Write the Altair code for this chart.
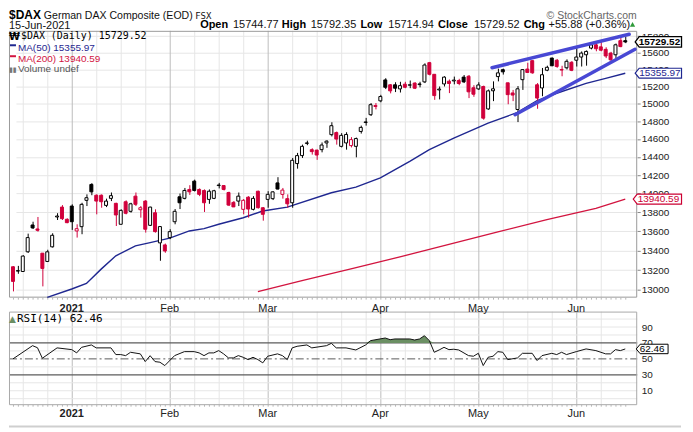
import altair as alt
import numpy as np
import pandas as pd

# ---------------- values ----------------
# t = trading-day index: 0 = first candle (Dec 2020) ... 125 = 15-Jun-2021
opens = [13234, 13190, 13186, 13387, 13666, 13624, 13373, 13288, 13438, 13750,
         13855, 13726, 13866, 13603, 13648, 13927, 14098, 13982, 13982, 13873,
         13948, 13895, 13673, 13912, 13810, 13972, 13827, 13919, 13662, 13795,
         13479, 13458, 13534, 13700, 13965, 13948, 14044, 14134, 14044, 14033,
         13937, 13948, 14086, 14086, 14011, 13905, 13919, 13831, 13961, 13831,
         14025, 13848, 13937, 13945, 14115, 13991, 13945, 13901, 14326, 14414,
         14550, 14480, 14475, 14480, 14555, 14648, 14671, 14517, 14555, 14525,
         14517, 14684, 14785, 14874, 14968, 15033, 15277, 15220, 15220, 15172,
         15227, 15215, 15240, 15222, 15254, 15481, 15343, 15160, 15230, 15262,
         15265, 15270, 15310, 15320, 15185, 15172, 15200, 14940, 15150, 15316,
         15398, 15243, 15125, 14934, 15280, 15405, 15505, 15220, 15183, 15391,
         15536, 15510, 15400, 15420, 15485, 15510, 15548, 15575, 15655, 15695,
         15670, 15640, 15595, 15575, 15745, 15744.77]
highs = [13240, 13243, 13352, 13575, 13700, 13750, 13373, 13408, 13579, 13790,
         13876, 13735, 13884, 13673, 13901, 13991, 14112, 13991, 13990, 13945,
         14011, 13901, 13831, 13927, 13901, 14011, 13866, 13930, 13858, 13831,
         13655, 13472, 13621, 13834, 14000, 14060, 14090, 14150, 14055, 14044,
         14044, 14040, 14115, 14090, 14020, 13920, 14011, 13941, 13972, 13972,
         14030, 13855, 14025, 14025, 14177, 14060, 13991, 14388, 14444, 14536,
         14580, 14495, 14480, 14560, 14585, 14788, 14683, 14665, 14675, 14620,
         14615, 14750, 14838, 15008, 15008, 15103, 15297, 15227, 15250, 15255,
         15255, 15270, 15250, 15255, 15473, 15490, 15343, 15200, 15320, 15282,
         15316, 15290, 15335, 15335, 15215, 15250, 15210, 15165, 15260, 15410,
         15410, 15243, 15160, 15205, 15405, 15480, 15510, 15240, 15418, 15445,
         15540, 15525, 15444, 15520, 15500, 15655, 15615, 15627, 15710, 15730,
         15735, 15665, 15610, 15710, 15810, 15792.35]
lows = [12986, 13163, 13186, 13376, 13624, 13596, 13036, 13282, 13431, 13718,
        13718, 13685, 13614, 13534, 13569, 13866, 13982, 13778, 13848, 13855,
        13919, 13655, 13673, 13778, 13796, 13866, 13743, 13586, 13655, 13586,
        13295, 13377, 13518, 13673, 13834, 13937, 13985, 14022, 13972, 13803,
        13890, 13940, 14055, 14033, 13866, 13855, 13866, 13778, 13743, 13820,
        13840, 13711, 13848, 13930, 14044, 13945, 13848, 13848, 14270, 14388,
        14530, 14425, 14367, 14450, 14500, 14628, 14536, 14505, 14480, 14505,
        14395, 14660, 14750, 14860, 14935, 15017, 15170, 15120, 15135, 15130,
        15180, 15180, 15170, 15190, 15240, 15330, 15045, 15050, 15200, 15123,
        15225, 15215, 15240, 15065, 15080, 15160, 14817, 14930, 15030, 15260,
        15340, 14994, 15030, 14790, 15160, 15360, 15350, 14942, 15087, 15380,
        15440, 15420, 15320, 15400, 15380, 15435, 15435, 15445, 15640, 15617,
        15617, 15535, 15485, 15535, 15665, 15714.94]
closes = [13086, 13195, 13343, 13534, 13635, 13610, 13217, 13387, 13558, 13760,
          13732, 13690, 13700, 13627, 13884, 13955, 14018, 13919, 13912, 13919,
          13977, 13771, 13820, 13789, 13890, 13884, 13848, 13621, 13855, 13596,
          13649, 13395, 13596, 13810, 13901, 14033, 14018, 14033, 13991, 13901,
          14025, 14030, 14092, 14044, 13876, 13857, 13972, 13927, 13834, 13948,
          13848, 13778, 13991, 14018, 14048, 14037, 13890, 14362, 14414, 14517,
          14555, 14458, 14420, 14532, 14575, 14749, 14598, 14640, 14650, 14592,
          14604, 14730, 14792, 14989, 14980, 15083, 15191, 15149, 15180, 15210,
          15191, 15220, 15180, 15230, 15453, 15343, 15094, 15170, 15310, 15235,
          15275, 15235, 15254, 15138, 15110, 15218, 14835, 15149, 15173, 15360,
          15372, 15105, 15100, 15173, 15398, 15365, 15360, 15065, 15338, 15426,
          15444, 15435, 15393, 15497, 15390, 15548, 15595, 15615, 15695, 15647,
          15630, 15560, 15515, 15695, 15673.64, 15729.52]

ma50_t = [7, 12, 15, 18, 21, 25, 28, 32, 36, 39, 42, 47, 51, 56, 65, 70, 75, 81,
          85, 90, 97, 103, 107, 111, 117, 121, 125]
ma50_v = [12927, 13010, 13066, 13210, 13346, 13448, 13482, 13528, 13603, 13627,
          13673, 13742, 13813, 13855, 14008, 14069, 14170, 14351, 14481, 14610,
          14779, 14900, 15037, 15121, 15237, 15296, 15355.97]
ma200_t = [50, 59, 69, 79, 89, 99, 109, 119, 125]
ma200_v = [12983, 13093, 13213, 13335, 13463, 13593, 13723, 13841, 13940.59]

trend_id = ["upper", "upper", "lower", "lower"]
trend_t = [97.8, 125.8, 102.5, 127.0]
trend_v = [15421, 15822, 14874, 15641]

rsi_t = [0, 4, 5, 6, 9, 12, 13, 14, 16, 17, 20, 21, 22, 23, 24, 26, 27, 28, 29, 30,
         31, 33, 35, 37, 38, 39, 40, 41, 42, 43, 44, 45, 46, 47, 48, 49, 50, 51, 52, 54,
         55, 56, 57, 58, 60, 61, 64, 65, 66, 68, 70, 72, 73, 76, 77, 78, 81, 82, 83, 84,
         85, 86, 87, 88, 89, 90, 91, 93, 94, 95, 96, 97, 98, 99, 100, 101, 103, 104, 106,
         107, 108, 110, 111, 112, 113, 115, 117, 119, 121, 122, 123, 124, 125]
rsi_v = [50, 66.6, 64, 50.8, 63.8, 61.6, 57.5, 64.5, 67.5, 63.8, 63.8, 55.4, 55.4, 54.1,
         58.3, 56.3, 46.6, 54, 46.6, 45.8, 41.6, 54.1, 59.1, 59.1, 57.5, 54.1, 57.5, 57.5,
         60.4, 56.3, 51.2, 51.2, 54.1, 52, 49.1, 52, 49.1, 45, 53.3, 56.3, 54.1, 49.1,
         63.8, 65.8, 67.5, 63.8, 66.6, 69.5, 63.8, 63.8, 61.2, 67.5, 72.9, 76.2, 74.1, 75,
         75, 73.7, 75, 79.1, 72.9, 58.3, 61.2, 64.5, 61.6, 62.1, 61.2, 54.1, 53.3, 57,
         41.6, 52, 53.3, 59.1, 58.3, 49.1, 51.2, 57, 57, 47.9, 54.1, 57, 55.4, 58.3, 55.4,
         59.1, 62.5, 60.4, 56.3, 56.3, 61.6, 60.4, 62.46]

month_t = [12, 32, 52, 75, 95, 115]
month_names = ["2021", "Feb", "Mar", "Apr", "May", "Jun"]
week_t = [2, 7, 17, 22, 27, 37, 42, 47, 57, 62, 67, 72, 80, 85, 90, 100, 105, 110, 120]
price_ticks = [13000, 13200, 13400, 13600, 13800, 14000, 14200, 14400, 14600,
               14800, 15000, 15200, 15400, 15600, 15800]
rsi_ticks = [10, 30, 50, 70, 90]
rsi_grid = [0, 10, 20, 40, 60, 80, 90, 100]
hdr_labels = ["Open", "High", "Low", "Close", "Chg"]
hdr_values = ["15744.77", "15792.35", "15714.94", "15729.52", "+55.88 (+0.36%)"]

# ---------------- layout / style ----------------
W, H = 631, 378
RED, BLACK, NAVY, MARED = "#d1003b", "#000000", "#1f2790", "#d2143f"
SANS = "Liberation Sans, Arial, sans-serif"
MONO = "DejaVu Sans Mono, monospace"
DEJ = "DejaVu Sans, sans-serif"

XS = alt.Scale(domain=[0, 125], range=[-1, 624], nice=False, zero=False)
PY = alt.Scale(type="log", domain=[13000, 15800], range=[260.3, 5.3], nice=False)
RY = alt.Scale(domain=[0, 100], range=[369.5, 289.5], nice=False, zero=False)


def X(field="t"):
    return alt.X(f"{field}:Q", scale=XS, axis=None)


one = pd.DataFrame({"k": [0]})


def label(s, x, y, size=11, weight="normal", color="#111", font=SANS, align="left"):
    return alt.Chart(one).mark_text(text=s, font=font, fontSize=size, fontWeight=weight,
                                    color=color, align=align, baseline="alphabetic").encode(
        x=alt.value(x), y=alt.value(y))


def hline(x0, x1, y, color, width=1.0, dash=None, opacity=1.0):
    kw = dict(color=color, strokeWidth=width, opacity=opacity)
    if dash:
        kw["strokeDash"] = dash
    return alt.Chart(one).mark_rule(**kw).encode(x=alt.value(x0), x2=alt.value(x1), y=alt.value(y))


def box(x0, x1, y0, y1, color):
    return alt.Chart(one).mark_rect(fill="transparent", stroke=color, strokeWidth=1).encode(
        x=alt.value(x0), x2=alt.value(x1), y=alt.value(y0), y2=alt.value(y1))


def value_box(value, scale, x_left, width, height, color, text_x, bold, size, sw=1.2):
    s = width / 2.0
    hy = height / 2.0 / s
    bl = -1 + 4.0 / s
    path = f"M -1 0 L {bl:.3f} {-hy:.3f} L 1 {-hy:.3f} L 1 {hy:.3f} L {bl:.3f} {hy:.3f} Z"
    d = pd.DataFrame({"v": [value], "lab": [f"{value:.2f}"]})
    shape = alt.Chart(d).mark_point(shape=path, size=width * width, filled=True, fill="white",
                                    stroke=color, strokeWidth=sw, opacity=1).encode(
        x=alt.value(x_left + s), y=alt.Y("v:Q", scale=scale, axis=None))
    txt = alt.Chart(d).mark_text(align="left", baseline="middle", font=SANS, fontSize=size,
                                 fontWeight="bold" if bold else "normal", color=color).encode(
        x=alt.value(text_x), y=alt.Y("v:Q", scale=scale, axis=None), text="lab:N")
    return [shape, txt]


# ---------------- tables ----------------
df = pd.DataFrame({"t": list(range(len(closes))), "open": opens, "high": highs,
                   "low": lows, "close": closes})
prev = df["close"].shift(1).fillna(df["open"])
df["col"] = np.where(df["close"] < prev, RED, BLACK)
df["fillc"] = np.where(df["close"] > df["open"], "#ffffff", df["col"])

ma50_df = pd.DataFrame({"t": ma50_t, "v": ma50_v})
ma200_df = pd.DataFrame({"t": ma200_t, "v": ma200_v})
trend_df = pd.DataFrame({"line": trend_id, "t": trend_t, "v": trend_v})
rsi_df = pd.DataFrame({"t": rsi_t, "rsi": rsi_v})
rsi_df["top"] = np.maximum(rsi_df["rsi"], 70)
week_df = pd.DataFrame({"t": week_t})
month_df = pd.DataFrame({"t": month_t, "name": month_names})

layers = []

# vertical grid (weekly light, monthly darker) in both panels
for y0, y1 in [(0, 268), (282, 375.5)]:
    layers.append(alt.Chart(week_df).mark_rule(xOffset=0.5, color="#e6e6e6").encode(
        x=X(), y=alt.value(y0), y2=alt.value(y1)))
    layers.append(alt.Chart(month_df).mark_rule(xOffset=0.5, color="#bcbcbc").encode(
        x=X(), y=alt.value(y0), y2=alt.value(y1)))

# RSI horizontal grid and levels
layers.append(alt.Chart(pd.DataFrame({"lv": rsi_grid})).mark_rule(color="#e6e6e6").encode(
    y=alt.Y("lv:Q", scale=RY, axis=None), x=alt.value(0), x2=alt.value(631)))
layers.append(alt.Chart(pd.DataFrame({"lv": [70, 30]})).mark_rule(color="#5c5c5c", strokeWidth=1.2).encode(
    y=alt.Y("lv:Q", scale=RY, axis=None), x=alt.value(0), x2=alt.value(631)))
layers.append(alt.Chart(pd.DataFrame({"lv": [50]})).mark_rule(color="#5c5c5c", strokeDash=[8, 3, 2, 3]).encode(
    y=alt.Y("lv:Q", scale=RY, axis=None), x=alt.value(0), x2=alt.value(631)))

# panel borders and day ticks
layers.append(box(0.5, 630.5, 0.5, 267.5, "#9a9a9a"))
layers.append(box(0.5, 630.5, 282.5, 375.5, "#a8a8a8"))
layers.append(alt.Chart(df).mark_rule(xOffset=0.5, color="#b4b4b4", clip=True).encode(
    x=X(), y=alt.value(268), y2=alt.value(270)))
layers.append(alt.Chart(df).mark_rule(xOffset=0.5, color="#b4b4b4", clip=True).encode(
    x=X(), y=alt.value(375.5), y2=alt.value(377.5)))

# moving averages
layers.append(alt.Chart(ma200_df).mark_line(color=MARED, strokeWidth=1.3).encode(
    x=X(), y=alt.Y("v:Q", scale=PY, axis=None)))
layers.append(alt.Chart(ma50_df).mark_line(color=NAVY, strokeWidth=1.4).encode(
    x=X(), y=alt.Y("v:Q", scale=PY, axis=None)))

# candles
price_axis = alt.Axis(orient="right", values=price_ticks, format="d", title=None, domain=False,
                      ticks=True, tickSize=3, tickColor="#888888", labelPadding=1, labelFont=SANS,
                      labelFontSize=10, labelColor="#222222", grid=True, gridColor="#e6e6e6",
                      labelOverlap=False, zindex=0)
layers.append(alt.Chart(df).mark_rule(xOffset=0.5, strokeWidth=1, clip=True).encode(
    x=X(), y=alt.Y("low:Q", scale=PY, axis=price_axis), y2="high:Q",
    color=alt.Color("col:N", scale=None)))
layers.append(alt.Chart(df).mark_bar(size=3, strokeWidth=1, clip=True).encode(
    x=X(), y=alt.Y("open:Q", scale=PY, axis=None), y2="close:Q",
    fill=alt.Fill("fillc:N", scale=None), stroke=alt.Stroke("col:N", scale=None)))

# trend lines
layers.append(alt.Chart(trend_df).mark_line(color="#4848d4", strokeWidth=3.5, strokeCap="round").encode(
    x=X(), y=alt.Y("v:Q", scale=PY, axis=None), detail="line:N"))

# RSI
rsi_axis = alt.Axis(orient="right", values=rsi_ticks, title=None, domain=False, ticks=False,
                    labelPadding=4, labelFont=SANS, labelFontSize=10, labelColor="#222222",
                    grid=False, zindex=0)
layers.append(alt.Chart(rsi_df).mark_area(color="#6b8f63", opacity=1).encode(
    x=X(), y=alt.Y("top:Q", scale=RY, axis=None), y2=alt.datum(70)))
layers.append(alt.Chart(rsi_df).mark_line(color="#111111", strokeWidth=1).encode(
    x=X(), y=alt.Y("rsi:Q", scale=RY, axis=rsi_axis)))

# legends inside panels
layers.append(label("\u20a9", 0, 9, size=10, weight="bold", color="#000", font=DEJ))
layers.append(label(f"$DAX (Daily) {closes[-1]:.2f}", 12, 8.5, size=10, color="#000", font=MONO))
layers.append(hline(1, 7, 14.5, NAVY, 2))
layers.append(label(f"MA(50) {ma50_v[-1]:.2f}", 9, 20, size=10, color=NAVY))
layers.append(hline(1, 7, 25.5, MARED, 2))
layers.append(label(f"MA(200) {ma200_v[-1]:.2f}", 9, 31, size=10, color=MARED))
layers.append(label("\u25ae\u25ae", 0, 41.5, size=7, color="#777", font=DEJ))
layers.append(label("Volume undef", 9, 41.5, size=10, color="#555"))
layers.append(label("\u25b2", 0, 292.5, size=9, color="#6b8f63", font=DEJ))
layers.append(label(f"RSI(14) {rsi_v[-1]:.2f}", 8, 292.7, size=11, color="#000", font=MONO))

# header
layers.append(hline(0, 1, -20.5, "#ffffff", 1, opacity=0))
layers.append(label("$DAX", 0, -11.5, size=12, weight="bold", color="#000"))
layers.append(label("German DAX Composite (EOD)", 35, -11.5, size=10.6, color="#111"))
layers.append(label("FSX", 187, -11.5, size=9, color="#111", font=MONO))
layers.append(label("\u00a9 StockCharts.com", 540, -12, size=10.5, color="#666"))
layers.append(label("15-Jun-2021", 0, -2.3, size=11, color="#111"))
hdr_lab_x = [192, 274, 353, 431, 517]
hdr_val_x = [225, 303, 381, 467, 542]
for s, x in zip(hdr_labels, hdr_lab_x):
    layers.append(label(s, x, -2.5, size=11, weight="bold", color="#000"))
for s, x in zip(hdr_values, hdr_val_x):
    layers.append(label(s, x, -2.5, size=11, color="#111"))
layers.append(alt.Chart(one).mark_point(shape="triangle-up", filled=True, size=28, color="#2f9a3a",
                                        opacity=1).encode(x=alt.value(626.3), y=alt.value(-6.5)))

# value boxes on the right (kept inside the 677px that the page allows)
layers += value_box(closes[-1], PY, 629, 46.5, 10.5, "#000000", 632.5, True, 10, 1.3)
layers += value_box(ma50_v[-1], PY, 629, 46.5, 10, NAVY, 633, False, 10)
layers += value_box(ma200_v[-1], PY, 627, 48.5, 10, "#cc0033", 631.5, False, 10)
layers += value_box(rsi_v[-1], RY, 630, 32, 9.5, "#000000", 633.5, False, 10, 1.0)

# month labels (between panels and at the bottom)
for ypos in (279, 384.5):
    layers.append(alt.Chart(month_df.iloc[:1]).mark_text(font=SANS, fontSize=11, fontWeight="bold",
                                                         color="#222", align="center").encode(
        x=X(), y=alt.value(ypos), text="name:N"))
    layers.append(alt.Chart(month_df.iloc[1:]).mark_text(font=SANS, fontSize=11, color="#222",
                                                         align="center").encode(
        x=X(), y=alt.value(ypos), text="name:N"))

# separator line at the bottom
layers.append(hline(0, 675, 397.5, "#cfcfcf", 2))

chart = alt.layer(*layers).properties(width=W, height=H, padding=0).resolve_scale(
    y="independent").configure_view(stroke=None)

chart.save("out.html", embed_options={"renderer": "svg", "actions": False})
